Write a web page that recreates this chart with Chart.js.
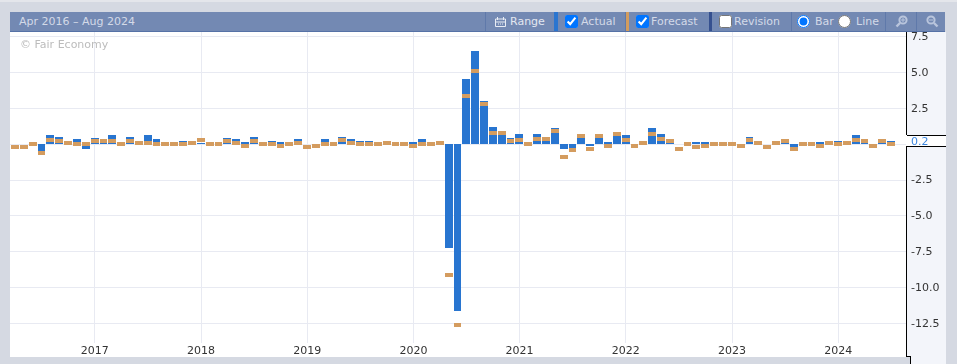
<!DOCTYPE html>
<html><head><meta charset="utf-8">
<script src="https://cdn.jsdelivr.net/npm/chart.js@4"></script>
<style>
html,body{margin:0;padding:0;width:957px;height:364px;overflow:hidden;background:#d5d9e2;font-family:"DejaVu Sans",sans-serif}
.abs{position:absolute}
#topstrip{left:0;top:0;width:957px;height:2px;background:#e4e6eb}
#plotbg{left:10px;top:32px;width:897px;height:325px;background:#fff}
#axisbg{left:907px;top:32px;width:39px;height:325px;background:#f3f5fa}
#axisbg2{left:910px;top:357px;width:36px;height:7px;background:#f3f5fa}
#toolbar{left:10px;top:12px;width:935px;height:20px;background:#7389b3;border-bottom:1px solid #5672a6;box-sizing:border-box}
.tt{position:absolute;top:15px;font-size:11px;line-height:14px;color:#d3dae8;white-space:nowrap}
.sep{position:absolute;top:12px;width:1px;height:19px;background:#5f79aa}
.sw{position:absolute;top:12px;height:19px}
input{position:absolute;margin:0;width:13px;height:13px;top:15px}
.black{position:absolute;background:#000}
#box{left:907px;top:135px;width:39px;height:10px;background:#fff;border-top:1px solid #000;border-bottom:1px solid #000;z-index:5;color:#3b86e0;font-size:11px;line-height:12px;text-indent:4px}
#wm{left:20px;top:38px;font-size:11px;line-height:14px;color:#bcbcbc;z-index:4}
canvas{position:absolute;left:10px;top:32px;z-index:2}
svg{position:absolute}
</style></head><body>
<div class="abs" id="topstrip"></div>
<div class="abs" id="plotbg"></div>
<div class="abs" id="axisbg"></div>
<div class="abs" id="axisbg2"></div>
<div class="abs" id="toolbar"></div>
<div class="tt" style="left:19px;font-size:11px">Apr 2016 – Aug 2024</div>
<div class="sep" style="left:485px"></div>
<svg style="left:495px;top:16px" width="11" height="11" viewBox="0 0 11 11"><path d="M0.5 3h10v7.5h-10zM0.5 6h10" fill="none" stroke="#e8ecf4"/><path d="M2.5 1v3M8.5 1v3M3 8h1M5 8h1M7 8h1" stroke="#e8ecf4"/></svg>
<div class="tt" style="left:510px;color:#e3e7f0">Range</div>
<div class="sw" style="left:554px;width:4px;background:#2a75d0"></div>
<input type="checkbox" checked style="left:565px">
<div class="tt" style="left:581px">Actual</div>
<div class="sep" style="left:625px"></div>
<div class="sw" style="left:626px;width:3px;background:#d29c5e"></div>
<input type="checkbox" checked style="left:636px">
<div class="tt" style="left:651px">Forecast</div>
<div class="sw" style="left:709px;width:3px;background:#35508f"></div>
<input type="checkbox" style="left:719px">
<div class="tt" style="left:734px">Revision</div>
<div class="sep" style="left:791px"></div>
<input type="radio" name="m" checked style="left:797px">
<div class="tt" style="left:815px">Bar</div>
<input type="radio" name="m" style="left:838px">
<div class="tt" style="left:856px">Line</div>
<div class="sep" style="left:885px"></div>
<svg style="left:895px;top:15px" width="13" height="13" viewBox="0 0 13 13"><circle cx="8" cy="5" r="3.6" fill="none" stroke="#b9c5dc" stroke-width="2"/><path d="M5 8L1.5 11.5" stroke="#b9c5dc" stroke-width="2.4"/><path d="M6 5h4M8 3v4" stroke="#b9c5dc"/></svg>
<div class="sep" style="left:916px"></div>
<svg style="left:926px;top:15px" width="13" height="13" viewBox="0 0 13 13"><circle cx="5" cy="5" r="3.6" fill="none" stroke="#b9c5dc" stroke-width="2"/><path d="M8 8L11.5 11.5" stroke="#b9c5dc" stroke-width="2.4"/><path d="M3 5h4" stroke="#b9c5dc"/></svg>
<div class="abs" id="wm">© Fair Economy</div>
<canvas id="c" width="936" height="325"></canvas>
<div class="black" style="left:906px;top:32px;width:1px;height:103px;z-index:3"></div>
<div class="black" style="left:906px;top:146px;width:1px;height:211px;z-index:3"></div>
<div class="black" style="left:906px;top:356px;width:4px;height:1px;z-index:3"></div>
<div class="black" style="left:910px;top:356px;width:1px;height:8px;z-index:3"></div>
<div class="abs" id="box">0.2</div>
<script>
const actual = [
 .05,.05,0,-.45,.66,.52,.1,.38,-.31,.45,
 .2,.66,0,.52,.05,.66,.38,0,0,.24,
 .05,.1,0,0,.45,.38,.17,.52,0,.24,
 .17,0,.38,.05,0,.38,0,.52,.38,.24,
 .24,0,.05,0,0,.17,.38,0,.05,-7.2,
 -11.6,4.55,6.49,3.02,1.2,.8,.45,.73,0,.73,
 .38,1.15,-.31,-.24,.59,-.1,.59,.17,.73,.66,
 0,.05,1.15,.73,.15,.05,0,.17,.17,0,
 0,0,0,.52,.05,.05,.05,.17,-.2,0,
 0,.17,.05,.24,.05,.66,.2,0,.17,.24];
const forecast = [
 -.17,-.17,.03,-.6,.31,.24,.1,.03,.03,.24,
 .24,.24,.03,.24,.1,.1,.03,.03,.03,.03,
 .1,.31,.03,.03,.24,.1,-.1,.24,.03,.03,
 -.1,.03,.1,-.17,-.1,.03,.03,.31,.1,.03,
 .03,.03,.1,.03,.03,-.1,.03,.03,.1,-9.1,
 -12.6,3.37,5.1,2.83,.8,.8,.24,.31,.03,.38,
 .38,.94,-.87,-.38,.59,-.31,.59,-.1,.73,.31,
 -.1,.1,.73,.38,.24,-.31,.03,-.17,-.1,.03,
 .03,.03,-.1,.31,.1,-.17,.1,.24,-.31,.03,
 .03,-.1,.1,.03,.1,.31,.24,-.1,.24,.03];
const yearLabels = ["2017","2018","2019","2020","2021","2022","2023","2024"];
const yearIndex = [9,21,33,45,57,69,81,93];
const yTicks = [7.5,5,2.5,0,-2.5,-5,-7.5,-10,-12.5];
const markerHalf = 0.14;

const snap = {
  id:'snap',
  beforeDatasetsDraw(chart){
    chart.data.datasets.forEach((d,k)=>{
      chart.getDatasetMeta(k).data.forEach(el=>{
        if(el._s) return;
        const l=Math.round(el.x-4.15), r=Math.round(el.x+4.7)-1;
        el.x=(l+r)/2; el.width=r-l;
        const neg=el.y>el.base;
        el.y=Math.round(el.y+0.4);
        if(d.label==='Actual') el.base=neg?Math.floor(el.base):Math.ceil(el.base);
        else el.base=Math.round(el.base+0.4);
        el._s=1;
      });
    });
  }
};

new Chart(document.getElementById('c'),{
  type:'bar',
  data:{datasets:[
    {label:'Forecast',order:1,grouped:false,backgroundColor:'#d49c5f',barThickness:8,inflateAmount:0,
     data:forecast.map((f,i)=>({x:i,y:[f-markerHalf,f+markerHalf]}))},
    {label:'Actual',order:2,grouped:false,backgroundColor:'#2875d0',barThickness:8,inflateAmount:0,
     data:actual.map((a,i)=>({x:i,y:a}))}
  ]},
  plugins:[snap],
  options:{
    responsive:false,animation:false,
    layout:{padding:0},
    plugins:{legend:{display:false},tooltip:{enabled:false}},
    scales:{
      x:{type:'linear',offset:false,min:-0.582,max:100.66,
        afterBuildTicks(s){s.ticks=yearIndex.map(v=>({value:v}));},
        afterFit(s){s.height=14;s.paddingLeft=0;s.paddingRight=0;s.paddingTop=0;s.paddingBottom=0;},
        grid:{offset:false,color:'#e8eaf2',lineWidth:1,tickLength:0,drawTicks:false},
        border:{display:false},
        ticks:{autoSkip:false,maxRotation:0,padding:2,color:'#333',font:{family:'"DejaVu Sans"',size:11},
          callback(v){const k=yearIndex.indexOf(v);return k<0?'':yearLabels[k];}}
      },
      y:{position:'right',min:-13.85,max:7.806,
        afterBuildTicks(s){s.ticks=yTicks.map(v=>({value:v}));},
        afterFit(s){s.width=40;s.paddingTop=0;s.paddingBottom=0;s.paddingLeft=0;s.paddingRight=0;},
        grid:{color:'#e8eaf2',lineWidth:1,drawTicks:false,tickLength:0},
        border:{display:false},
        ticks:{autoSkip:false,padding:5,labelOffset:0.5,crossAlign:'near',color:'#333',font:{family:'"DejaVu Sans"',size:11},
          callback(v){return v.toFixed(1);}}
      }
    }
  }
});
</script>
</body></html>
